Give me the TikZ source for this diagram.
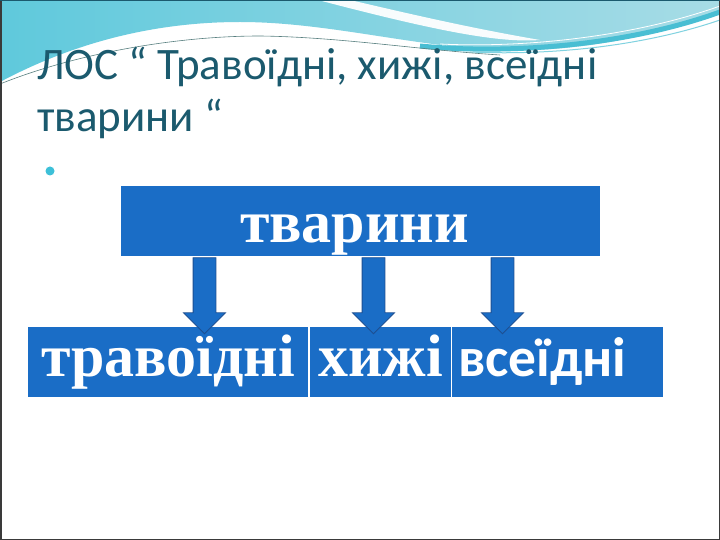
\documentclass[tikz,border=0pt]{standalone}
\usepackage{fontspec}
\setmainfont{Liberation Serif}
\newfontfamily\calib{Carlito}
\usetikzlibrary{shapes.arrows}
\definecolor{boxblue}{HTML}{1A6DC6}
\definecolor{arrowedge}{HTML}{1D4F92}
\definecolor{titleteal}{HTML}{1B5A6E}
\definecolor{bulletcyan}{HTML}{3DC0D8}
\definecolor{waveA}{HTML}{5FC9DC}
\definecolor{waveB}{HTML}{8CC3D8}
\definecolor{waveC}{HTML}{A7DCE6}
\definecolor{waveband}{HTML}{49BED3}
\definecolor{frame}{HTML}{3A3A3A}
\tikzset{
  bluebox/.style={fill=boxblue, draw=none, inner sep=0pt, text=white},
  blockarrow/.style={single arrow, fill=boxblue, draw=arrowedge, line width=0.8pt,
    shape border rotate=270, minimum height=76pt, minimum width=41pt,
    single arrow head extend=9.5pt, inner sep=11pt, text width=0pt},
  titletext/.style={text=titleteal, inner sep=0pt, anchor=base west, font=\calib\fontsize{45}{50}\selectfont},
  bigserif/.style={font=\fontsize{60}{60}\selectfont\bfseries},
}
\begin{document}
\begin{tikzpicture}[x=1pt,y=-1pt]
\useasboundingbox (0,0) rectangle (720,540);
% background
\fill[white] (0,0) rectangle (720,540);
% wave header
\shade[left color=waveA, middle color=waveB, right color=waveC]
  (0,0) -- (720,0) -- (720,10)
  .. controls (650,40) and (560,55) .. (480,49)
  .. controls (400,43) and (320,22) .. (240,22)
  .. controls (140,22) and (60,50) .. (0,82) -- cycle;
\fill[white, opacity=0.95]
  (318,0) -- (350,0)
  .. controls (410,14) and (470,28) .. (540,40)
  .. controls (500,43) and (440,32) .. (318,0) -- cycle;
\draw[waveband, line width=5pt]
  (420,46) .. controls (500,54) and (620,48) .. (720,12);
\draw[white, line width=0.8pt]
  (440,44) .. controls (520,48) and (630,38) .. (720,6);
\draw[waveband!70!white, line width=1pt]
  (470,52) .. controls (560,56) and (650,44) .. (720,20);
\draw[gray!70!teal, line width=0.6pt]
  (0,84) .. controls (80,52) and (180,36) .. (260,36)
  .. controls (340,37) and (420,50) .. (500,55);
% frame
\draw[frame, line width=1.5pt] (0.75,0.75) rectangle (719.25,539.25);
\draw[titleteal, line width=1.5pt] (0,0.75) -- (720,0.75);
% title
\node[titletext] (t1) at (37,80) {ЛОС “ Травоїдні, хижі, всеїдні};
\node[titletext] (t2) at (37,132) {тварини “};
\node[circle, fill=bulletcyan, inner sep=0pt, minimum size=9pt] (bul) at (50,171) {};
% top box
\node[bluebox, bigserif, minimum width=479pt, text height=56pt, text depth=14pt]
  (top) at (360.5,221) {тварини\hspace*{12pt}};
% bottom boxes
\node[bluebox, bigserif, minimum width=280pt, text height=49pt, text depth=21pt]
  (b1) at (168,362) {травоїдні};
\node[bluebox, bigserif, minimum width=141pt, text height=49pt, text depth=21pt]
  (b2) at (380.5,362) {хижі};
\node[bluebox, font=\calib\fontsize{55.5}{56}\selectfont\bfseries, text width=199pt, align=left,
  inner xsep=6pt, text height=49pt, text depth=21pt]
  (b3) at (557.5,362) {всеїдні};
% arrows
\node[blockarrow] (a1) at (204.5,290) {};
\node[blockarrow] (a2) at (373.5,290) {};
\node[blockarrow] (a3) at (502.5,290) {};
\end{tikzpicture}
\end{document}
